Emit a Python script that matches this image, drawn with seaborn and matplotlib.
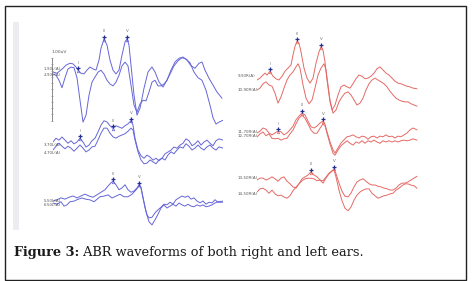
import matplotlib
matplotlib.use("Agg")
import matplotlib.pyplot as plt
import matplotlib.patches as mpatches
import numpy as np
import pandas as pd
import seaborn as sns

# ABR traces: latency in ms, amplitude in uV relative to the start of each trace
# left ear (blue)
t_L1 = [0.00, 0.20, 0.35, 0.50, 0.65, 0.85, 1.00, 1.15, 1.25, 1.40, 1.55, 1.70, 1.85, 2.00, 2.15, 2.30, 2.40, 2.55,
        2.70, 2.85, 3.00, 3.15, 3.30, 3.45, 3.60, 3.70, 3.80, 3.90, 4.05, 4.20, 4.35, 4.55, 4.75, 4.95, 5.10, 5.30,
        5.50, 5.70, 5.90, 6.10, 6.30, 6.50, 6.70, 6.90, 7.10, 7.30, 7.45, 7.60, 7.80, 8.00, 8.20, 8.45]
a_L1 = [0.00, -0.02, 0.02, 0.06, 0.11, 0.14, 0.13, 0.08, 0.03, -0.02, -0.03, 0.03, 0.08, 0.05, 0.03, 0.19, 0.38, 0.53,
        0.43, 0.19, 0.03, -0.03, 0.03, 0.27, 0.48, 0.53, 0.43, 0.11, -0.37, -0.69, -0.58, -0.26, 0.00, 0.08, 0.00,
        -0.16, -0.24, -0.13, 0.03, 0.16, 0.22, 0.24, 0.19, 0.10, 0.06, 0.14, 0.16, 0.03, -0.10, -0.21, -0.32, -0.42]
t_L2 = [0.00, 0.15, 0.30, 0.45, 0.60, 0.75, 0.90, 1.05, 1.20, 1.35, 1.50, 1.65, 1.80, 1.95, 2.10, 2.25, 2.40, 2.55,
        2.70, 2.85, 3.00, 3.15, 3.30, 3.45, 3.60, 3.75, 3.90, 4.05, 4.20, 4.35, 4.50, 4.65, 4.80, 4.95, 5.10, 5.25,
        5.40, 5.55, 5.70, 5.85, 6.05, 6.25, 6.45, 6.65, 6.85, 7.05, 7.25, 7.45, 7.65, 7.85, 8.00, 8.15, 8.30, 8.50]
a_L2 = [0.00, -0.02, -0.10, -0.22, -0.06, 0.08, 0.11, 0.10, -0.06, -0.42, -0.77, -0.66, -0.34, -0.13, -0.05, 0.03,
        0.06, 0.00, -0.10, -0.16, -0.19, -0.13, -0.02, 0.13, 0.19, 0.13, -0.18, -0.50, -0.61, -0.48, -0.42, -0.43,
        -0.29, -0.13, -0.10, -0.19, -0.19, -0.16, -0.10, 0.00, 0.13, 0.21, 0.26, 0.24, 0.18, 0.03, -0.06, -0.10,
        -0.26, -0.50, -0.70, -0.80, -0.77, -0.74]
t_L34 = [0.00, 0.15, 0.30, 0.45, 0.60, 0.75, 0.90, 1.05, 1.20, 1.35, 1.50, 1.65, 1.80, 1.95, 2.10, 2.25, 2.40, 2.55,
         2.70, 2.85, 3.00, 3.15, 3.30, 3.45, 3.60, 3.75, 3.90, 4.00, 4.10, 4.25, 4.40, 4.55, 4.70, 4.85, 5.00, 5.15,
         5.30, 5.45, 5.60, 5.75, 5.90, 6.05, 6.20, 6.35, 6.50, 6.65, 6.80, 6.95, 7.10, 7.25, 7.40, 7.55, 7.70, 7.85,
         8.00, 8.15, 8.30, 8.50]
a_L3 = [0.00, 0.06, 0.03, 0.08, 0.03, -0.02, 0.02, -0.03, 0.00, 0.06, 0.00, -0.08, -0.05, 0.02, 0.06, 0.16, 0.27, 0.34,
        0.32, 0.26, 0.22, 0.26, 0.24, 0.22, 0.26, 0.29, 0.34, 0.27, 0.06, -0.13, -0.22, -0.26, -0.21, -0.24, -0.29,
        -0.26, -0.30, -0.26, -0.19, -0.16, -0.13, -0.08, -0.10, -0.05, -0.02, 0.05, 0.02, -0.06, -0.03, 0.02, -0.05,
        0.00, 0.03, -0.02, -0.06, 0.02, 0.05, 0.03]
a_L4 = [0.00, 0.06, 0.11, 0.06, 0.02, 0.06, 0.03, -0.02, 0.03, 0.08, 0.03, -0.03, 0.00, 0.05, 0.06, 0.16, 0.27, 0.35,
        0.35, 0.27, 0.21, 0.19, 0.22, 0.24, 0.26, 0.30, 0.35, 0.32, 0.16, -0.03, -0.16, -0.22, -0.21, -0.16, -0.19,
        -0.22, -0.16, -0.13, -0.16, -0.08, -0.03, -0.06, 0.00, 0.05, 0.03, 0.10, 0.06, 0.00, 0.03, 0.08, 0.03, 0.00,
        0.05, 0.08, 0.03, 0.00, 0.05, 0.03]
t_L5 = [0.00, 0.20, 0.40, 0.60, 0.80, 1.00, 1.20, 1.40, 1.60, 1.80, 2.00, 2.20, 2.40, 2.60, 2.75, 2.90, 3.00, 3.15,
        3.30, 3.45, 3.60, 3.75, 3.90, 4.05, 4.20, 4.30, 4.40, 4.50, 4.60, 4.70, 4.80, 4.95, 5.10, 5.25, 5.40, 5.55,
        5.70, 5.85, 6.00, 6.15, 6.30, 6.45, 6.60, 6.75, 6.90, 7.05, 7.20, 7.35, 7.50, 7.65, 7.80, 7.95, 8.10, 8.25, 8.50]
a_L5 = [0.00, 0.02, 0.05, 0.03, 0.06, 0.08, 0.05, 0.08, 0.11, 0.08, 0.06, 0.10, 0.14, 0.18, 0.24, 0.29, 0.32, 0.26,
        0.18, 0.21, 0.26, 0.18, 0.14, 0.16, 0.21, 0.26, 0.22, 0.06, -0.10, -0.22, -0.27, -0.26, -0.19, -0.14, -0.10,
        -0.05, -0.06, -0.02, -0.05, 0.02, 0.05, 0.08, 0.06, 0.08, 0.03, 0.05, 0.00, -0.03, 0.00, -0.05, -0.02, -0.03,
        0.02, -0.02, -0.02]
t_L6 = [0.00, 0.20, 0.40, 0.55, 0.70, 0.85, 1.05, 1.25, 1.45, 1.65, 1.85, 2.05, 2.20, 2.35, 2.55, 2.75, 2.95, 3.15,
        3.35, 3.55, 3.75, 3.95, 4.15, 4.30, 4.40, 4.50, 4.65, 4.80, 4.95, 5.10, 5.25, 5.40, 5.55, 5.70, 5.85, 6.00,
        6.15, 6.30, 6.45, 6.60, 6.75, 6.90, 7.05, 7.20, 7.35, 7.50, 7.65, 7.80, 7.95, 8.10, 8.25, 8.50]
a_L6 = [0.00, -0.02, 0.02, -0.05, -0.03, 0.02, 0.03, 0.06, 0.08, 0.06, 0.05, 0.02, 0.06, 0.10, 0.11, 0.13, 0.08, 0.11,
        0.14, 0.10, 0.10, 0.14, 0.21, 0.27, 0.24, 0.08, -0.14, -0.30, -0.35, -0.27, -0.18, -0.08, -0.03, -0.08, -0.05,
        -0.02, -0.05, 0.00, -0.03, -0.05, -0.02, -0.05, -0.06, -0.03, -0.05, -0.03, -0.06, -0.05, -0.03, 0.00, 0.02,
        0.03]

# right ear (red)
t_R9 = [0.00, 0.15, 0.30, 0.40, 0.50, 0.65, 0.80, 0.95, 1.10, 1.25, 1.40, 1.55, 1.70, 1.80, 1.90, 2.00, 2.10, 2.20,
        2.35, 2.50, 2.65, 2.80, 2.95, 3.10, 3.20, 3.30, 3.40, 3.50, 3.65, 3.75, 3.90, 4.05, 4.20, 4.35, 4.50, 4.65,
        4.80, 4.95, 5.10, 5.25, 5.40, 5.55, 5.70, 5.85, 6.00, 6.15, 6.30, 6.45, 6.60, 6.75, 6.90, 7.05, 7.20, 7.35,
        7.50, 7.65, 7.80, 8.00]
a_R9 = [0.00, 0.03, 0.08, 0.11, 0.08, 0.14, 0.06, 0.02, 0.00, 0.06, 0.14, 0.19, 0.24, 0.40, 0.54, 0.62, 0.59, 0.45,
        0.19, 0.03, -0.05, 0.03, 0.27, 0.45, 0.53, 0.48, 0.29, 0.00, -0.35, -0.48, -0.40, -0.24, -0.11, -0.08, -0.11,
        -0.13, -0.06, 0.02, 0.08, 0.06, 0.02, 0.03, 0.06, 0.11, 0.18, 0.21, 0.16, 0.11, 0.08, 0.03, -0.02, -0.05,
        -0.06, -0.08, -0.10, -0.11, -0.13, -0.14]
t_R10 = [0.00, 0.15, 0.30, 0.45, 0.60, 0.75, 0.90, 1.05, 1.20, 1.35, 1.50, 1.65, 1.80, 1.95, 2.05, 2.15, 2.30, 2.45,
         2.60, 2.75, 2.90, 3.05, 3.20, 3.35, 3.45, 3.55, 3.65, 3.80, 3.95, 4.10, 4.25, 4.40, 4.55, 4.70, 4.85, 5.00,
         5.15, 5.30, 5.45, 5.60, 5.75, 5.90, 6.05, 6.20, 6.35, 6.50, 6.65, 6.80, 6.95, 7.10, 7.25, 7.40, 7.55, 7.70,
         7.85, 8.00]
a_R10 = [0.00, 0.03, 0.10, 0.13, 0.08, 0.06, -0.05, -0.21, -0.11, 0.03, 0.16, 0.24, 0.29, 0.37, 0.42, 0.35, 0.08,
         -0.13, -0.22, -0.16, 0.03, 0.24, 0.35, 0.42, 0.32, 0.08, -0.16, -0.37, -0.32, -0.19, -0.11, -0.05, -0.03,
         -0.08, -0.16, -0.24, -0.21, -0.13, 0.00, 0.10, 0.16, 0.19, 0.16, 0.13, 0.10, 0.05, -0.02, -0.08, -0.13,
         -0.16, -0.18, -0.19, -0.19, -0.22, -0.24, -0.26]
t_R1112 = [0.00, 0.15, 0.30, 0.45, 0.60, 0.75, 0.90, 1.05, 1.20, 1.35, 1.50, 1.65, 1.80, 1.95, 2.10, 2.25, 2.40, 2.55,
           2.70, 2.85, 3.00, 3.15, 3.30, 3.40, 3.50, 3.65, 3.80, 3.90, 4.05, 4.20, 4.35, 4.50, 4.65, 4.80, 4.95, 5.10,
           5.25, 5.40, 5.55, 5.70, 5.85, 6.00, 6.15, 6.30, 6.45, 6.60, 6.75, 6.90, 7.05, 7.20, 7.35, 7.50, 7.65, 7.80,
           8.00]
a_R11 = [0.00, 0.03, 0.08, 0.06, 0.00, -0.03, 0.00, 0.03, 0.02, -0.03, 0.00, 0.05, 0.11, 0.21, 0.27, 0.32, 0.29, 0.19,
         0.10, 0.08, 0.11, 0.16, 0.19, 0.14, 0.02, -0.14, -0.27, -0.32, -0.24, -0.16, -0.11, -0.06, -0.05, -0.03,
         -0.06, -0.08, -0.05, -0.06, -0.10, -0.06, -0.05, -0.08, -0.05, -0.06, -0.03, -0.06, -0.05, -0.08, -0.05,
         -0.06, -0.03, 0.00, 0.05, 0.08, 0.05]
a_R12 = [0.00, 0.05, 0.08, 0.02, 0.05, -0.02, -0.03, -0.02, -0.05, -0.03, -0.02, 0.05, 0.11, 0.21, 0.30, 0.35, 0.30,
         0.21, 0.11, 0.06, 0.06, 0.14, 0.21, 0.18, 0.06, -0.11, -0.26, -0.29, -0.21, -0.14, -0.10, -0.06, -0.10,
         -0.13, -0.08, -0.10, -0.06, -0.10, -0.06, -0.08, -0.05, -0.08, -0.10, -0.06, -0.08, -0.06, -0.08, -0.06,
         -0.08, -0.06, -0.05, -0.06, -0.05, -0.03, -0.05]
t_R1314 = [0.00, 0.15, 0.30, 0.45, 0.60, 0.75, 0.90, 1.05, 1.20, 1.35, 1.50, 1.65, 1.80, 1.95, 2.10, 2.25, 2.40, 2.55,
           2.70, 2.85, 3.00, 3.15, 3.30, 3.45, 3.60, 3.75, 3.85, 3.95, 4.10, 4.25, 4.40, 4.55, 4.70, 4.85, 5.00, 5.15,
           5.30, 5.45, 5.60, 5.75, 5.90, 6.05, 6.20, 6.35, 6.50, 6.65, 6.80, 6.95, 7.10, 7.25, 7.40, 7.55, 7.70, 7.85,
           8.00]
a_R13 = [0.00, 0.03, 0.03, 0.00, 0.02, 0.05, 0.02, -0.02, 0.03, 0.05, -0.02, -0.06, -0.11, -0.13, -0.06, 0.02, 0.05,
         0.08, 0.13, 0.08, 0.05, 0.00, -0.05, 0.03, 0.10, 0.14, 0.18, 0.10, -0.05, -0.18, -0.26, -0.27, -0.21, -0.11,
         -0.03, 0.00, 0.02, -0.02, -0.06, -0.08, -0.08, -0.10, -0.11, -0.13, -0.14, -0.16, -0.16, -0.13, -0.08,
         -0.05, -0.05, -0.03, 0.00, 0.03, 0.06]
a_R14 = [0.00, 0.05, 0.06, 0.03, -0.02, 0.03, -0.03, -0.06, -0.05, -0.08, -0.10, -0.06, 0.02, 0.08, 0.13, 0.18, 0.21,
         0.22, 0.22, 0.21, 0.18, 0.19, 0.18, 0.24, 0.30, 0.34, 0.35, 0.24, 0.03, -0.14, -0.26, -0.30, -0.24, -0.13,
         -0.05, 0.00, 0.03, 0.05, 0.05, -0.02, -0.06, -0.10, -0.08, -0.06, -0.05, -0.03, -0.02, 0.03, 0.06, 0.10,
         0.13, 0.13, 0.11, 0.10, 0.06]

left_names = ["1-90L(A)", "2-90L(A)", "3-70L(A)", "4-70L(A)", "5-50L(A)", "6-50L(A)"]
right_names = ["9-90R(A)", "10-90R(A)", "11-70R(A)", "12-70R(A)", "13-50R(A)", "14-50R(A)"]
left_data = [(t_L1, a_L1), (t_L2, a_L2), (t_L34, a_L3), (t_L34, a_L4), (t_L5, a_L5), (t_L6, a_L6)]
right_data = [(t_R9, a_R9), (t_R10, a_R10), (t_R1112, a_R11), (t_R1112, a_R12), (t_R1314, a_R13), (t_R1314, a_R14)]

# wave peak latencies (ms) marked on the upper trace of each pair
left_peaks = {0: [("I", 1.25), ("III", 2.55), ("V", 3.70)],
              2: [("I", 1.35), ("III", 3.00), ("V", 3.90)],
              4: [("III", 3.00), ("V", 4.30)]}
right_peaks = {0: [("I", 0.65), ("III", 2.00), ("V", 3.20)],
               2: [("I", 1.05), ("III", 2.25), ("V", 3.30)],
               4: [("III", 2.70), ("V", 3.85)]}

# ---- layout (pixels of a 473x281 canvas) ----
W, H = 473, 281
UV_PX = 62.5   # pixels per uV
MS_PX = 20.0   # pixels per ms
TOP, BOT = 20, 232
left_base = [72, 74, 142, 150, 201, 203]
right_base = [80, 90, 133, 137, 180, 192]
left_lab = [69, 75, 145, 153, 201, 205]
right_lab = [76, 90, 132, 136, 178, 194]

BLUE = "#6666d8"
RED = "#e46a66"
NAVY = "#23308e"

sns.set_style("white")
plt.rcParams["font.family"] = ["DejaVu Sans"]

fig = plt.figure(figsize=(W / 100, H / 100), dpi=100)
fig.patch.set_facecolor("white")


def px2uv(y):
    return -(y - TOP) / UV_PX


def panel(x0, names, data, bases, labs, peaks, color, lab_x):
    ax = fig.add_axes([x0 / W, 1 - BOT / H, 170 / W, (BOT - TOP) / H])
    ax.set_xlim(0, 170 / MS_PX)
    ax.set_ylim(px2uv(BOT), 0)
    ax.axis("off")
    for i, (name, (t, a)) in enumerate(zip(names, data)):
        off = px2uv(bases[i])
        df = pd.DataFrame({"t": t, "amp": np.array(a) + off})
        sns.lineplot(data=df, x="t", y="amp", ax=ax, sort=False, estimator=None,
                     color=color, lw=0.7, legend=False)
        ax.text(lab_x, px2uv(labs[i]), name, fontsize=2.9, color="#555555",
                ha="left", va="center", clip_on=False)
        for lab, lat in peaks.get(i, []):
            y = np.interp(lat, t, a) + off
            ax.plot([lat], [y - 0.01], marker="^", ms=1.8, mfc="none", mec=color, mew=0.5, clip_on=False)
            ax.plot([lat], [y + 0.035], marker="+", ms=3.0, color=NAVY, mew=0.9, clip_on=False)
            ax.text(lat, y + 0.12, lab, fontsize=2.9, color="#707070", ha="center", va="center")
    return ax


axl = panel(53, left_names, left_data, left_base, left_lab, left_peaks, BLUE, (44 - 53) / MS_PX)
axr = panel(257, right_names, right_data, right_base, right_lab, right_peaks, RED, (238 - 257) / MS_PX)

# 1 uV calibration bar
bx = (52 - 53) / MS_PX
axl.plot([bx, bx], [px2uv(58), px2uv(58) - 1.0], color="#8a8a8a", lw=0.7, clip_on=False)
for k in range(11):
    yk = px2uv(58) - k * 0.1
    axl.plot([bx - 0.04, bx + 0.04], [yk, yk], color="#8a8a8a", lw=0.4, clip_on=False)
axl.text(bx, px2uv(52), "1.00uV", fontsize=3.2, color="#555555", ha="left", va="center")

# frame, grey strip, caption
fig.patches.append(mpatches.Rectangle((13 / W, 1 - 230 / H), 6 / W, 208 / H, transform=fig.transFigure,
                                      facecolor="#ececf1", edgecolor="none", zorder=0))
fig.patches.append(mpatches.Rectangle((4.5 / W, 1 - 279.5 / H), 461 / W, 273.5 / H, transform=fig.transFigure,
                                      fill=False, edgecolor="#222222", lw=1.0))
cap = fig.text(14 / W, 1 - 256 / H, "Figure 3:", fontsize=9.3, fontweight="bold",
               family=["DejaVu Serif"], color="#1a1a1a", va="baseline")
plt.annotate(" ABR waveforms of both right and left ears.", xy=(1, 0), xycoords=cap,
             fontsize=9.3, family=["DejaVu Serif"], color="#1a1a1a", va="bottom", ha="left",
             annotation_clip=False)

fig.savefig("out.png", dpi=100)
